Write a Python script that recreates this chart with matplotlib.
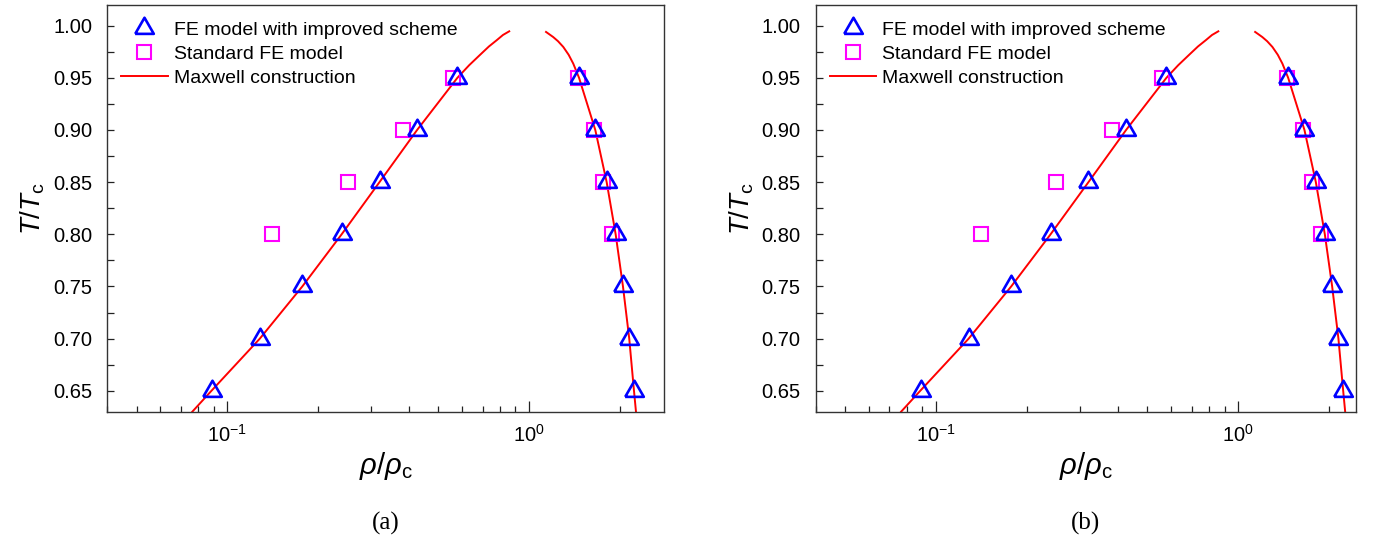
import matplotlib
matplotlib.use("Agg")
import matplotlib.pyplot as plt
from matplotlib.ticker import MultipleLocator, FormatStrFormatter, LogLocator

plt.rcParams['font.family'] = ['Liberation Sans', 'DejaVu Sans']
plt.rcParams['mathtext.fontset'] = 'custom'
plt.rcParams['mathtext.rm'] = 'Liberation Sans'
plt.rcParams['mathtext.it'] = 'Liberation Sans:italic'
plt.rcParams['mathtext.default'] = 'regular'

# FE model with improved scheme (triangles)
T_tri = [0.65, 0.70, 0.75, 0.80, 0.85, 0.90, 0.95]
rho_tri_gas = [0.0892, 0.128, 0.177, 0.239, 0.319, 0.426, 0.578]
rho_tri_liq = [2.22, 2.143, 2.043, 1.932, 1.804, 1.654, 1.461]

# standard FE model (squares)
T_sq = [0.80, 0.85, 0.90, 0.95]
rho_sq_gas = [0.141, 0.250, 0.383, 0.560]
rho_sq_liq = [1.875, 1.758, 1.640, 1.446]

# Maxwell construction
T_max_gas = [0.63, 0.65, 0.70, 0.75, 0.80, 0.85, 0.90, 0.95, 0.962, 0.972, 0.980, 0.986, 0.991, 0.9945]
rho_max_gas = [0.0765, 0.0885, 0.128, 0.177, 0.239, 0.319, 0.425, 0.578, 0.632, 0.687, 0.735, 0.78, 0.818, 0.858]
T_max_liq = [0.9939, 0.989, 0.985, 0.9795, 0.972, 0.9636, 0.95, 0.90, 0.85, 0.80, 0.75, 0.70, 0.65, 0.63]
rho_max_liq = [1.136, 1.20, 1.245, 1.296, 1.35, 1.398, 1.461, 1.654, 1.804, 1.932, 2.043, 2.143, 2.222, 2.256]

panels = ["(a)", "(b)"]
xmax = [2.8, 2.45]

tri = [(-1, -0.577), (1, -0.577), (0, 1.155), (-1, -0.577)]

fig = plt.figure(figsize=(13.93, 5.4), dpi=100)
boxes = [[107.3/1393, 1-411.7/540, 557/1393, 407/540],
         [816/1393, 1-411.7/540, 540/1393, 407/540]]

for i in range(2):
    ax = fig.add_axes(boxes[i])
    ax.plot(rho_max_gas, T_max_gas, color='red', lw=1.4, zorder=1)
    ax.plot(rho_max_liq, T_max_liq, color='red', lw=1.4, zorder=1,
            label="Maxwell construction")
    ax.plot(rho_sq_gas + rho_sq_liq, T_sq + T_sq, ls='none', marker='s', ms=9.5,
            mfc='none', mec='#ff00ff', mew=1.5, zorder=2, label="Standard FE model")
    ax.plot(rho_tri_gas + rho_tri_liq, T_tri + T_tri, ls='none', marker=tri, ms=15.5,
            mfc='none', mec='#0000ff', mew=1.9, zorder=3,
            label="FE model with improved scheme")
    ax.set_xscale('log')
    ax.set_xlim(0.04, xmax[i])
    ax.set_ylim(0.63, 1.02)
    ax.yaxis.set_major_locator(MultipleLocator(0.05))
    ax.yaxis.set_minor_locator(MultipleLocator(0.025))
    ax.yaxis.set_major_formatter(FormatStrFormatter('%.2f'))
    ax.xaxis.set_minor_locator(LogLocator(base=10, subs=range(2, 10)))
    ax.tick_params(axis='both', which='both', direction='in', top=False, right=False,
                   labelsize=14.5, width=0.9, color='#222222')
    ax.tick_params(axis='y', which='both', length=5, pad=11)
    ax.tick_params(axis='x', which='major', length=8, pad=9)
    ax.tick_params(axis='x', which='minor', length=4.5)
    for s in ax.spines.values():
        s.set_linewidth(1.0)
        s.set_color('#333333')
    ax.set_xlabel(r'$\it{\rho}/\it{\rho}_\mathrm{c}$', fontsize=21, labelpad=3)
    ax.set_ylabel(r'$\it{T}/\it{T}_\mathrm{c}$', fontsize=20, labelpad=4)
    h, l = ax.get_legend_handles_labels()
    ax.legend(h[::-1], l[::-1], loc='upper left', bbox_to_anchor=(-0.005, 1.0),
              frameon=False, fontsize=14,
              handlelength=2.4, handletextpad=0.3, labelspacing=0.32,
              borderaxespad=0.45, borderpad=0.4)
    ax.text(0.5, -0.275, panels[i], transform=ax.transAxes, ha='center', va='center',
            fontsize=18, family='Liberation Serif')

fig.savefig("out.png", dpi=100)
